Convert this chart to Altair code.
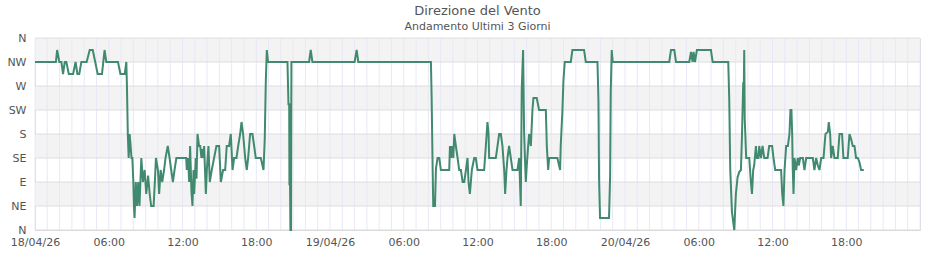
import altair as alt
import pandas as pd
import json

# --- Data (hours since 18/04/26 00:00, direction in degrees) ---
day1_hours = [0, 1.7, 1.8, 1.98, 2.15, 2.28, 2.42, 2.55, 2.75, 3.1, 3.3, 3.45, 3.6, 3.77, 4.2, 4.45, 4.7, 4.9,
              5.1, 5.45, 5.66, 5.8, 6.75, 6.95, 7.3, 7.43, 7.48, 7.55, 7.62, 7.7, 7.78, 7.85, 7.92, 8.0, 8.05,
              8.1, 8.2, 8.3, 8.4, 8.5, 8.65, 8.78, 8.92, 9.05, 9.2, 9.33, 9.45, 9.65, 9.75, 9.84, 10.0, 10.1,
              10.22, 10.35, 10.5, 10.62, 10.8, 10.95, 11.08, 11.22, 11.35, 11.5,
              12.3, 12.35, 12.46, 12.54, 12.62, 12.73, 12.81, 12.9, 12.95, 13.08, 13.14, 13.22, 13.35, 13.44,
              13.54, 13.63, 13.71, 13.76, 13.9, 13.98, 14.11, 14.22, 14.38, 14.57, 14.76, 14.98, 15.12, 15.3,
              15.47, 15.6, 15.79, 15.93, 16.07, 16.2, 16.39, 16.53, 16.69, 16.8, 16.93, 17.1, 17.23, 17.34,
              17.5, 17.69, 17.83, 17.96, 18.37, 18.59, 18.69, 18.78, 18.86, 18.96, 20.54, 20.62, 20.68, 20.7,
              20.72, 20.75, 20.78, 20.83, 20.86, 22.3, 22.43, 22.57]
day1_deg = [315, 315, 337.5, 315, 315, 292.5, 315, 315, 292.5, 292.5, 315, 292.5, 292.5, 315, 315, 337.5, 337.5, 315,
            292.5, 292.5, 337.5, 315, 315, 292.5, 292.5, 315, 270, 180, 135, 180, 157.5, 135, 135, 90, 45,
            22.5, 90, 45, 90, 45, 135, 90, 112.5, 67.5, 102, 67.5, 45, 45, 90, 135, 112.5, 67.5,
            112.5, 90, 112.5, 135, 157.5, 135, 112.5, 90, 112.5, 135,
            135, 112.5, 135, 90, 157.5, 71, 45, 112.5, 67.5, 135, 96, 180, 157.5, 157.5,
            135, 152, 135, 157.5, 67.5, 112.5, 157.5, 90, 112.5, 135, 157.5, 157.5, 90, 112.5,
            112.5, 157.5, 157.5, 180, 112.5, 135, 135, 157.5, 180, 202.5, 180, 135, 112.5, 135,
            180, 180, 157.5, 135, 135, 112.5, 170, 281, 337.5, 315, 315, 236, 236, 84,
            236, 84, 0, 0, 315, 315, 337.5, 315]

day2_hours = [26.0, 26.17, 26.3, 32.21, 32.27, 32.35, 32.4, 32.54, 32.62, 32.75, 32.89, 33.02, 33.7, 33.76, 33.84,
              33.92, 34.03, 34.11, 34.24, 34.38, 34.51, 34.65, 34.79, 34.92, 35.06, 35.19, 35.27, 35.38, 35.54,
              35.73, 35.86, 36.0, 36.54, 36.68, 36.81, 36.9, 36.95, 37.49, 37.63, 37.76, 37.9, 38.03, 38.17,
              38.25, 38.36, 38.44, 38.57, 38.71, 38.85, 39.25, 39.39, 39.52, 39.6, 39.71, 39.79, 39.88, 39.93,
              40.01, 40.12, 40.2, 40.34, 40.47, 40.55, 40.82, 41.01, 41.56, 41.64, 41.75, 41.83, 42.5, 42.72,
              42.77, 42.91, 42.99, 43.1, 43.59, 43.72, 44.67, 44.81, 45.76, 45.84, 45.89, 45.97, 46.7, 46.79,
              46.84, 46.92, 47.0]
day2_deg = [315, 337.5, 315, 315, 247.5, 115, 45, 45, 115, 135, 135, 112.5, 112.5, 157.5, 135,
            157.5, 135, 180, 157.5, 135, 112.5, 112.5, 90, 90, 112.5, 135, 90, 67.5, 112.5,
            135, 135, 112.5, 112.5, 157.5, 202.5, 180, 135, 135, 157.5, 180, 180, 157.5, 112.5,
            67.5, 112.5, 135, 157.5, 135, 112.5, 112.5, 135, 45, 265, 337.5, 184, 121, 90,
            121, 157.5, 180, 157.5, 225, 247.5, 247.5, 225, 225, 157.5, 112.5, 135, 135, 112.5,
            157.5, 225, 280, 315, 315, 337.5, 337.5, 315, 315, 243, 96, 22.5, 22.5, 102,
            259, 337.5, 315]

day3_hours = [51.6, 51.74, 52.01, 52.15, 53.23, 53.37, 53.5, 53.58, 53.69, 53.85, 54.99, 55.13, 56.4, 56.48, 56.56,
              56.7, 56.89, 57.02, 57.16, 57.3, 57.43, 57.51, 57.62, 57.66, 57.7, 57.74, 57.78, 57.86, 58.11,
              58.24, 58.33, 58.43, 58.51, 58.65, 58.73, 58.85, 58.92, 59.06, 59.19, 59.33, 59.6, 59.73, 59.97,
              60.08, 60.22, 60.7, 60.79, 60.89, 60.98, 61.11, 61.25, 61.38, 61.46, 61.54, 61.6, 61.65, 61.71,
              61.79, 61.92, 62.06, 62.14, 62.25, 62.47, 62.6, 62.74, 63.28, 63.41, 63.55, 63.69, 63.82, 63.96,
              64.15, 64.31, 64.5, 64.58, 64.69, 64.77, 64.9, 65.04, 65.31, 65.45, 65.66, 65.77, 66.12, 66.26,
              66.39, 66.53, 66.67, 66.8, 66.94, 67.07, 67.21, 67.43]
day3_deg = [315, 337.5, 337.5, 315, 315, 334, 315, 334, 315, 337.5, 337.5, 315, 315, 246, 115,
            34, 0, 67.5, 99, 109, 112.5, 171, 277, 250, 337.5, 210, 184, 135, 135,
            90, 67.5, 112.5, 121, 157.5, 135, 135, 157.5, 135, 157.5, 135, 135, 157.5, 157.5,
            135, 112.5, 112.5, 67.5, 45, 112.5, 157.5, 157.5, 180, 225, 225, 180, 112.5, 67.5,
            135, 112.5, 135, 121, 135, 135, 112.5, 135, 135, 112.5, 135, 121, 112.5, 135,
            135, 180, 184, 202.5, 180, 135, 157.5, 135, 135, 180, 180, 135, 135, 180,
            171, 157.5, 157.5, 135, 135, 127.5, 112.5, 112.5]

compass_labels = ["N", "NE", "E", "SE", "S", "SW", "W", "NW", "N"]
compass_values = [0, 45, 90, 135, 180, 225, 270, 315, 360]
band_starts = [45, 135, 225, 315]
label_hours = [0, 6, 12, 18, 24, 30, 36, 42, 48, 54, 60, 66]

start = pd.Timestamp("2026-04-18 00:00")
hours = day1_hours + day2_hours + day3_hours
degs = day1_deg + day2_deg + day3_deg
df = pd.DataFrame({"time": start + pd.to_timedelta(hours, unit="h"), "deg": degs})

bands = pd.DataFrame({"y": band_starts, "y2": [b + 45 for b in band_starts]})
grid_v = pd.DataFrame({"time": pd.date_range(start, periods=73, freq="h")})
grid_h = pd.DataFrame({"y": compass_values})

def dt(h):
    t = start + pd.Timedelta(hours=h)
    return alt.DateTime(year=t.year, month=t.month, date=t.day, hours=t.hour, minutes=t.minute)

FONT = "DejaVu Sans"
x_scale = alt.Scale(domain=[dt(0), dt(72)])
y_scale = alt.Scale(domain=[0, 360], nice=False)

x_axis = alt.Axis(
    values=[dt(h) for h in label_hours],
    labelExpr="hours(datum.value) == 0 ? timeFormat(datum.value, '%d/%m/%y') : timeFormat(datum.value, '%H:%M')",
    title=None, grid=False, ticks=False, domain=False, labelFlush=False, labelOverlap=False,
    labelFontSize=11, labelColor="#555555", labelPadding=6, labelFont=FONT,
)
y_axis = alt.Axis(
    values=compass_values,
    labelExpr=json.dumps(compass_labels) + "[round(datum.value / 45)]",
    title=None, grid=False, ticks=False, domain=False, labelOverlap=False,
    labelFontSize=11, labelColor="#555555", labelPadding=9, labelFont=FONT,
)

band_layer = alt.Chart(bands).mark_rect(color="#f3f3f3").encode(
    y=alt.Y("y:Q", scale=y_scale, axis=y_axis),
    y2="y2:Q",
)
vgrid = alt.Chart(grid_v).mark_rule(color="#e8e8f8", strokeWidth=1).encode(
    x=alt.X("time:T", scale=x_scale, axis=x_axis),
)
hgrid = alt.Chart(grid_h).mark_rule(color="#dedede", strokeWidth=1).encode(
    y=alt.Y("y:Q", scale=y_scale, axis=y_axis),
)
line = alt.Chart(df).mark_line(color="#418a6f", strokeWidth=2, strokeJoin="miter").encode(
    x=alt.X("time:T", scale=x_scale, axis=x_axis),
    y=alt.Y("deg:Q", scale=y_scale, axis=y_axis),
)

chart = alt.layer(band_layer, vgrid, hgrid, line).properties(
    width=885,
    height=192,
    autosize=alt.AutoSizeParams(type="none"),
    padding={"left": 35, "top": 38, "right": 20, "bottom": 30},
    title=alt.TitleParams(
        text="Direzione del Vento",
        subtitle="Andamento Ultimi 3 Giorni",
        font=FONT, subtitleFont=FONT,
        fontSize=13, subtitleFontSize=11,
        fontWeight="normal",
        color="#555555", subtitleColor="#555555",
        anchor="middle", offset=0, subtitlePadding=3,
    ),
).configure_view(stroke="#d6d6d6", strokeWidth=1)

chart.save("out.html", embed_options={"renderer": "svg", "actions": False})
